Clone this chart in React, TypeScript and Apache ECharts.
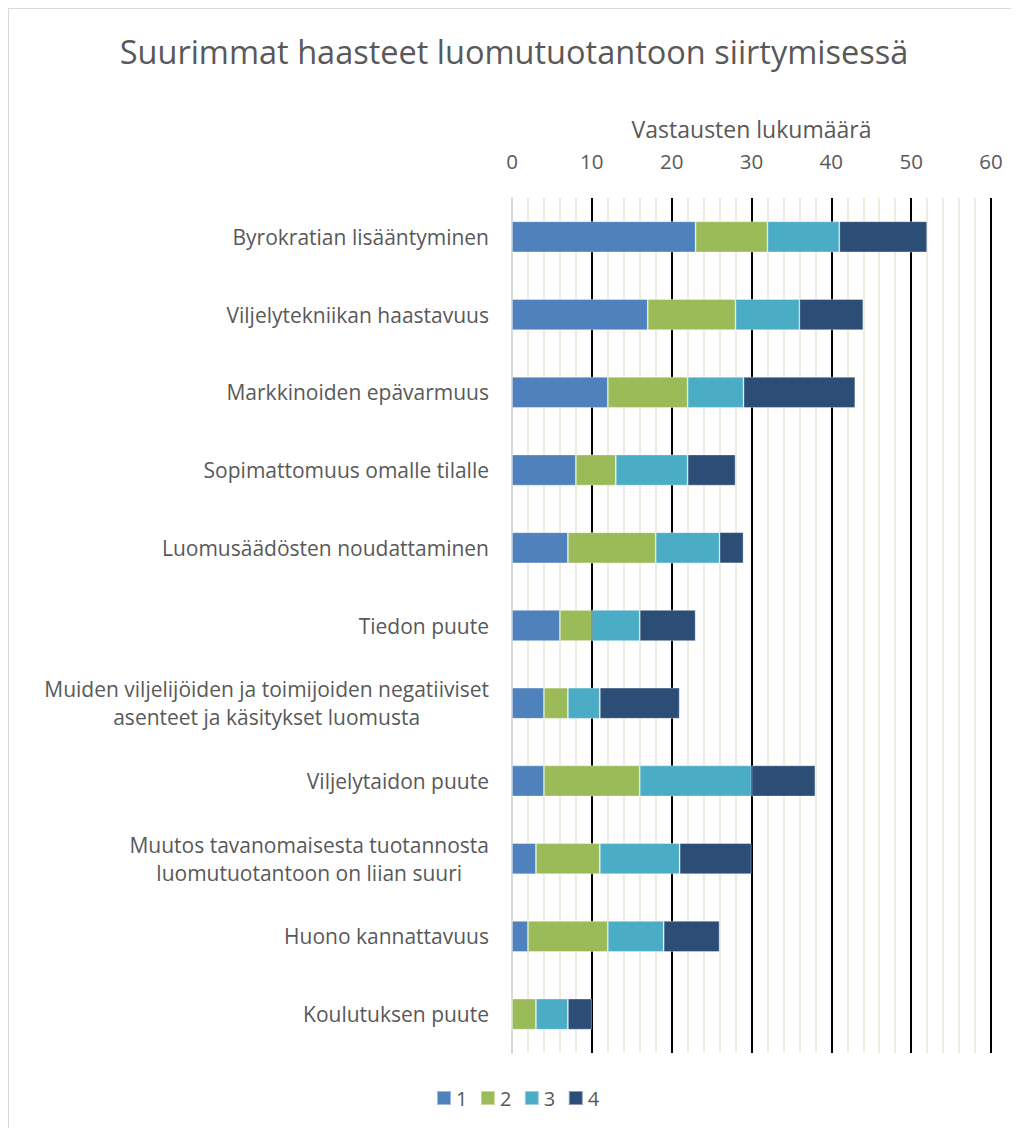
import React, { useEffect, useRef } from "react";
import * as echarts from "echarts";

const categories = [
  "Byrokratian lisääntyminen",
  "Viljelytekniikan haastavuus",
  "Markkinoiden epävarmuus",
  "Sopimattomuus omalle tilalle",
  "Luomusäädösten noudattaminen",
  "Tiedon puute",
  "Muiden viljelijöiden ja toimijoiden negatiiviset\nasenteet ja käsitykset luomusta",
  "Viljelytaidon puute",
  "Muutos tavanomaisesta tuotannosta\nluomutuotantoon on liian suuri",
  "Huono kannattavuus",
  "Koulutuksen puute",
];
const seriesNames = ["1", "2", "3", "4"];
const values1 = [23, 17, 12, 8, 7, 6, 4, 4, 3, 2, 0];
const values2 = [9, 11, 10, 5, 11, 4, 3, 12, 8, 10, 3];
const values3 = [9, 8, 7, 9, 8, 6, 4, 14, 10, 7, 4];
const values4 = [11, 8, 14, 6, 3, 7, 10, 8, 9, 7, 3];
const colors = ["#4F81BD", "#9BBB59", "#4BACC6", "#2C4D75"];
const axisTitle = "Vastausten lukumäärä";
const chartTitle = "Suurimmat haasteet luomutuotantoon siirtymisessä";

const FONT = "'Open Sans', sans-serif";
const TEXT = "#595959";

export default function App() {
  const ref = useRef<HTMLDivElement>(null);
  useEffect(() => {
    if (!ref.current) return;
    const chart = echarts.init(ref.current, null, { renderer: "svg" });
    const all = [values1, values2, values3, values4];
    chart.setOption({
      animation: false,
      backgroundColor: "#ffffff",
      title: {
        text: chartTitle,
        left: 500,
        top: 21,
        textAlign: "center",
        textStyle: { fontFamily: FONT, fontSize: 32.5, fontWeight: "normal", color: TEXT },
      },
      legend: {
        data: seriesNames,
        left: 422,
        bottom: 15,
        icon: "rect",
        itemWidth: 14,
        itemHeight: 14,
        itemGap: 12.5,
        textStyle: { fontFamily: FONT, fontSize: 20, color: TEXT },
      },
      grid: { left: 503, right: 28, top: 189, bottom: 75, containLabel: false },
      xAxis: {
        type: "value",
        position: "top",
        min: 0,
        max: 60,
        interval: 10,
        name: axisTitle,
        nameLocation: "middle",
        nameGap: 58,
        nameTextStyle: { fontFamily: FONT, fontSize: 23, color: TEXT },
        axisLine: { show: false },
        axisTick: { show: false },
        axisLabel: { fontFamily: FONT, fontSize: 20.5, color: TEXT, margin: 27 },
        splitLine: { show: true, showMinLine: false, lineStyle: { color: "#000000", width: 2 } },
        minorTick: { show: false, splitNumber: 5 },
        minorSplitLine: { show: true, lineStyle: { color: "#EEECE1", width: 2 } },
      },
      yAxis: {
        type: "category",
        inverse: true,
        data: categories,
        axisLine: { show: true, lineStyle: { color: "#D9D9D9", width: 2 } },
        axisTick: { show: false },
        axisLabel: {
          margin: 23,
          align: "right",
          formatter: (v: string) => v.split("\n").map((l) => `{c|${l}}`).join("\n"),
          rich: {
            c: { align: "center", fontFamily: FONT, fontSize: 21, color: TEXT, lineHeight: 28 },
          },
        },
      },
      series: seriesNames.map((n, i) => ({
        name: n,
        type: "bar",
        stack: "total",
        barWidth: "40%",
        data: all[i],
        itemStyle: { color: colors[i], borderColor: "rgba(255,255,255,0.45)", borderWidth: 0.8 },
      })),
    });
    return () => chart.dispose();
  }, []);
  return (
    <div style={{ borderTop: "1px solid #D9D9D9", borderLeft: "1px solid #D9D9D9", width: 1011, height: 1120 }}>
      <div ref={ref} style={{ width: 1010, height: 1119 }} />
    </div>
  );
}
